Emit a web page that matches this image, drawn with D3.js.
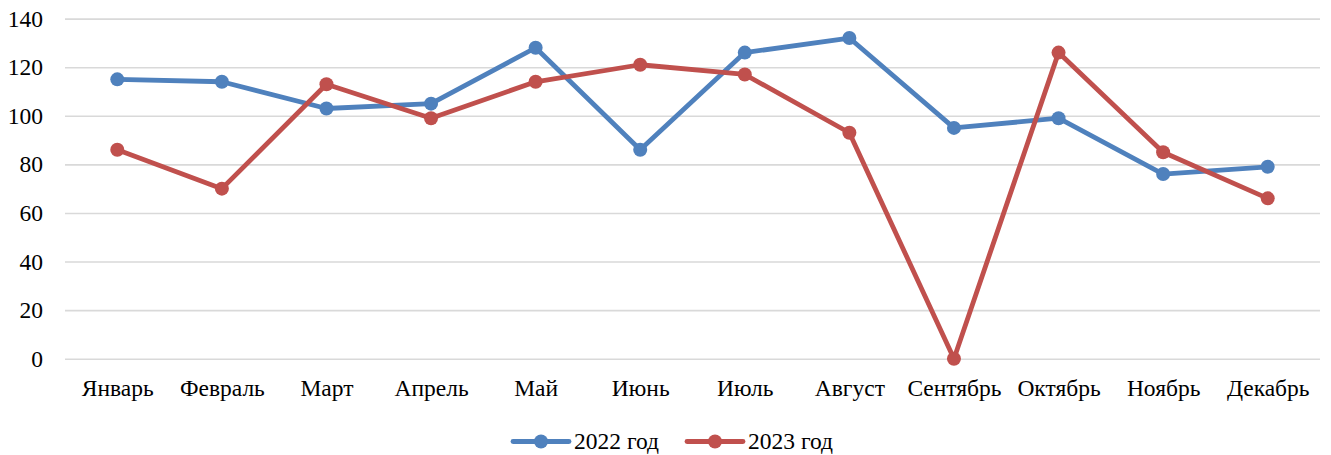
<!DOCTYPE html>
<html><head><meta charset="utf-8">
<script src="https://cdn.jsdelivr.net/npm/d3@7"></script>
<style>body{margin:0;background:#fff}svg{display:block}text{font-family:"Liberation Serif","Times New Roman",serif;fill:#000}</style>
</head><body><svg id="c" width="1331" height="455"></svg>
<script>
const months = ["Январь","Февраль","Март","Апрель","Май","Июнь","Июль","Август","Сентябрь","Октябрь","Ноябрь","Декабрь"];
const values2022 = [115,114,103,105,128,86,126,132,95,99,76,79];
const values2023 = [86,70,113,99,114,121,117,93,0,126,85,66];
const yTicks = [0,20,40,60,80,100,120,140];
const seriesNames = ["2022 год","2023 год"];
const colors = ["#4F81BD","#C0504D"];

const svg = d3.select("#c");
const L=65, R=1320, T=18.6, B=358.7;
const FS = "23.5px";
const x = d3.scalePoint().domain(months).range([L,R]).padding(0.5);
const y = d3.scaleLinear().domain([0,140]).range([B,T]);

const yAxis = svg.append("g").attr("transform",`translate(${L},0)`)
  .call(d3.axisLeft(y).tickValues(yTicks).tickSize(-(R-L)).tickPadding(22));
yAxis.select(".domain").remove();
yAxis.selectAll("line").attr("stroke","#d9d9d9").attr("stroke-width",1.6);
yAxis.selectAll("text").style("font-size",FS).attr("fill","#000");

const xAxis = svg.append("g").attr("transform",`translate(0,${B})`)
  .call(d3.axisBottom(x).tickSize(0).tickPadding(21));
xAxis.select(".domain").remove();
xAxis.selectAll("text").style("font-size",FS).attr("fill","#000");

[values2022, values2023].forEach((vals,i)=>{
  const line = d3.line().x((d,j)=>x(months[j])).y(d=>y(d));
  svg.append("path").datum(vals).attr("d",line).attr("fill","none")
    .attr("stroke",colors[i]).attr("stroke-width",4.8).attr("stroke-linejoin","round");
  svg.append("g").selectAll("circle").data(vals).join("circle")
    .attr("cx",(d,j)=>x(months[j])).attr("cy",d=>y(d)).attr("r",7).attr("fill",colors[i]);
});

const legX = [513, 687];
seriesNames.forEach((n,i)=>{
  const g = svg.append("g").attr("transform",`translate(${legX[i]},441.5)`);
  g.append("line").attr("x1",0).attr("x2",56).attr("stroke",colors[i]).attr("stroke-width",4.8).attr("stroke-linecap","round");
  g.append("circle").attr("cx",28).attr("r",7).attr("fill",colors[i]);
  g.append("text").attr("x",61).attr("dy","0.33em").style("font-size",FS).text(n);
});
</script></body></html>
